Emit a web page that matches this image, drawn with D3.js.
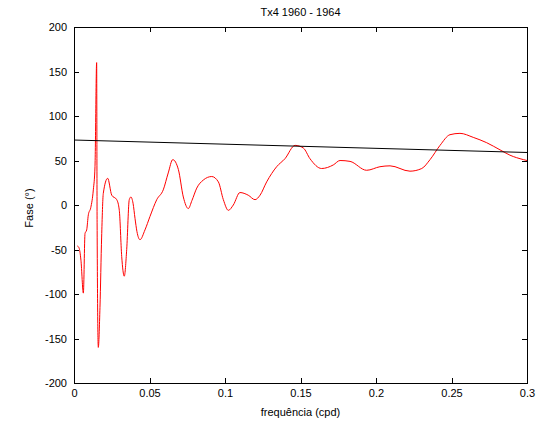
<!DOCTYPE html>
<html><head><meta charset="utf-8">
<script src="https://cdn.jsdelivr.net/npm/d3@7"></script>
<style>body{margin:0;background:#fff}svg{display:block}text{font-family:"Liberation Sans",Arial,sans-serif}</style>
</head><body><div id="chart"></div>
<script>
const freq = [0.0022,0.0033,0.0046,0.0062,0.0073,0.0084,0.0095,0.0111,0.0128,0.0139,0.0150,0.0153,0.0161,0.0172,0.0183,0.0194,0.0223,0.0250,0.0283,0.0300,0.0316,0.0333,0.0349,0.0366,0.0377,0.0391,0.0404,0.0417,0.0437,0.0470,0.0503,0.0548,0.0591,0.0624,0.0654,0.0691,0.0724,0.0757,0.0781,0.0813,0.0856,0.0912,0.0956,0.0989,0.1022,0.1055,0.1099,0.1154,0.1199,0.1232,0.1276,0.1342,0.1397,0.1464,0.1519,0.1563,0.1640,0.1717,0.1762,0.1828,0.1938,0.2026,0.2093,0.2225,0.2303,0.2358,0.2424,0.2490,0.2556,0.2644,0.2733,0.2821,0.2887,0.2976,0.3000];
const phase = [-46,-48,-62,-99,-32,-28,-11,-3,17,43,160,-20,-160,-115,-36,13,30,11,6,-6,-58,-80,-50,6,9,2,-15,-30,-39,-28,-13,6,17,36,51,40,9,-4,5,19,28,32,26,6,-6,0,14,11,6,11,26,43,52,67,64,52,41,45,50,49,39,43,44,38,41,51,67,79,80.5,76,70,62,56,51,50];
const trendFreq = [0, 0.3];
const trendPhase = [73, 59];
const xTicks = [0,0.05,0.1,0.15,0.2,0.25,0.3];
const xTickLabels = ["0","0.05","0.1","0.15","0.2","0.25","0.3"];
const yTicks = [-200,-150,-100,-50,0,50,100,150,200];
const yTickLabels = yTicks.map(String);
const title = "Tx4 1960 - 1964";
const xLabel = "frequência (cpd)";
const yLabel = "Fase (°)";

const W=540,H=425, L=74,R=527,T=27,B=383;
const svg=d3.select("#chart").append("svg").attr("width",W).attr("height",H);
const x=d3.scaleLinear().domain([0,0.3]).range([L,R]);
const y=d3.scaleLinear().domain([-200,200]).range([B,T]);
const g=svg.append("g");
const fs=11;
g.append("rect").attr("x",L).attr("y",T).attr("width",R-L).attr("height",B-T).attr("fill","none").attr("stroke","#000").attr("stroke-width",1).attr("shape-rendering","crispEdges");
const ax=(a)=>a.tickSizeInner(-5).tickSizeOuter(0).tickPadding(6);
const xb=g.append("g").attr("transform",`translate(0,${B})`).call(ax(d3.axisBottom(x).tickValues(xTicks).tickFormat((d,i)=>xTickLabels[i])));
const xt=g.append("g").attr("transform",`translate(0,${T})`).call(ax(d3.axisTop(x).tickValues(xTicks).tickFormat("")));
const yl=g.append("g").attr("transform",`translate(${L},0)`).call(ax(d3.axisLeft(y).tickValues(yTicks).tickFormat((d,i)=>yTickLabels[i])));
const yr=g.append("g").attr("transform",`translate(${R},0)`).call(ax(d3.axisRight(y).tickValues(yTicks).tickFormat("")));
[xb,xt,yl,yr].forEach(a=>{a.select(".domain").remove();a.selectAll("line").attr("stroke","#000").attr("shape-rendering","crispEdges");a.selectAll("text").attr("font-size",fs).attr("fill","#000").attr("font-family","'Liberation Sans',Arial,sans-serif");});
yl.selectAll("text").attr("dx","-1");
const pts=freq.map((f,i)=>[f,phase[i]]);
g.append("path").datum(pts).attr("d",d3.line().x(d=>x(d[0])).y(d=>y(d[1])).curve(d3.curveMonotoneX)).attr("fill","none").attr("stroke","#ff0000").attr("stroke-width",1);
const tp=trendFreq.map((f,i)=>[f,trendPhase[i]]);
g.append("path").datum(tp).attr("d",d3.line().x(d=>x(d[0])).y(d=>y(d[1]))).attr("fill","none").attr("stroke","#000").attr("stroke-width",1);
svg.append("text").attr("x",(L+R)/2).attr("y",16).attr("text-anchor","middle").attr("font-size",fs).text(title);
svg.append("text").attr("x",(L+R)/2).attr("y",416).attr("text-anchor","middle").attr("font-size",fs).text(xLabel);
svg.append("text").attr("transform",`translate(33,208) rotate(-90)`).attr("text-anchor","middle").attr("font-size",fs).text(yLabel);
</script></body></html>
